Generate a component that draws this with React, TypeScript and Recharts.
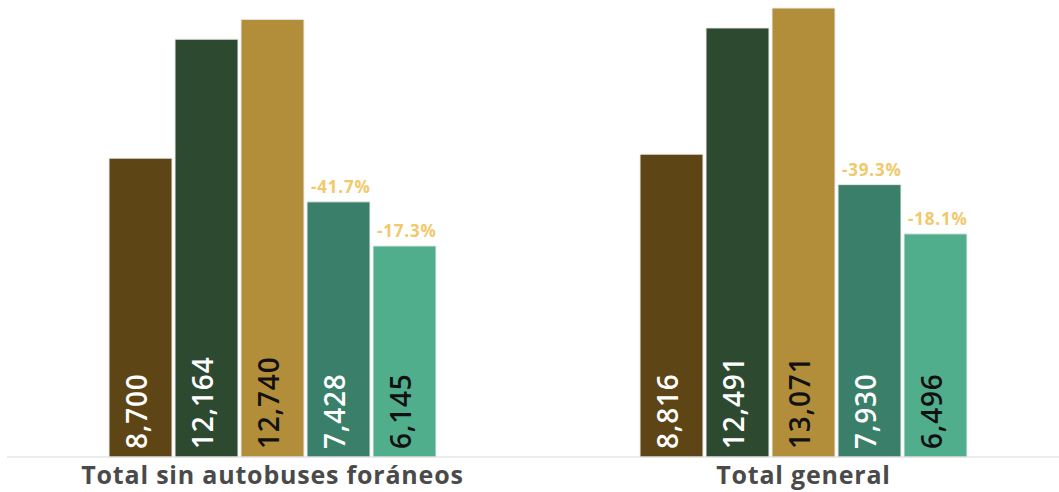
import { Bar, BarChart, LabelList, XAxis, YAxis } from "recharts";

const categories = ["Total sin autobuses foráneos", "Total general"];
const serie1 = [8700, 8816];
const serie2 = [12164, 12491];
const serie3 = [12740, 13071];
const serie4 = [7428, 7930];
const serie5 = [6145, 6496];
const cambio4 = ["-41.7%", "-39.3%"];
const cambio5 = ["-17.3%", "-18.1%"];

const FONT = "'Open Sans', sans-serif";

const series = [
  { key: "s1", fill: "#5d4515", text: "#ffffff" },
  { key: "s2", fill: "#2d4a31", text: "#ffffff" },
  { key: "s3", fill: "#b28d3a", text: "#111111" },
  { key: "s4", fill: "#3a7f6a", text: "#ffffff" },
  { key: "s5", fill: "#51ae8d", text: "#111111" },
];

const chartData = categories.map((name, i) => ({
  name,
  s1: serie1[i],
  s2: serie2[i],
  s3: serie3[i],
  s4: serie4[i],
  s5: serie5[i],
  c4: cambio4[i],
  c5: cambio5[i],
}));

function valueLabel(color: string) {
  return (props: any) => {
    const { x, y, width, height, value } = props;
    const px = Number(x) + Number(width) / 2 + 6;
    const py = Number(y) + Number(height) - 8;
    return (
      <text
        transform={`translate(${px},${py}) rotate(-90)`}
        fill={color}
        fontSize={28}
        fontWeight={600}
        letterSpacing={0.8}
        fontFamily={FONT}
      >
        {Number(value).toLocaleString("en-US")}
      </text>
    );
  };
}

function changeLabel(props: any) {
  const { x, y, value } = props;
  return (
    <text
      x={Number(x) + 4}
      y={Number(y) - 9}
      fill="#f1c96b"
      fontSize={17}
      fontWeight={700}
      letterSpacing={0.8}
      fontFamily={FONT}
    >
      {value}
    </text>
  );
}

function CategoryTick(props: any) {
  const { x, y, payload } = props;
  return (
    <text
      x={x}
      y={y}
      dy={27}
      textAnchor="middle"
      fill="#4a4a4a"
      fontSize={25}
      fontWeight={700}
      letterSpacing={0.8}
      fontFamily={FONT}
    >
      {payload.value}
    </text>
  );
}

export default function App() {
  return (
    <div
      style={{
        position: "absolute",
        left: 0,
        top: 0,
        width: 1059,
        height: 492,
        overflow: "hidden",
        background: "#fff",
      }}
    >
      <BarChart
        width={1069}
        height={492}
        data={chartData}
        margin={{ top: 8, right: 0, left: 7, bottom: 0 }}
        barCategoryGap={102}
        barGap={3}
      >
        <XAxis
          dataKey="name"
          axisLine={{ stroke: "#d9d9d9", strokeWidth: 1 }}
          tickLine={false}
          tickSize={0}
          tickMargin={0}
          height={35}
          tick={<CategoryTick />}
          interval={0}
        />
        <YAxis hide domain={[0, "dataMax"]} />
        {series.map((s) => (
          <Bar
            key={s.key}
            dataKey={s.key}
            fill={s.fill}
            stroke="#ececec"
            strokeWidth={1}
            isAnimationActive={false}
          >
            <LabelList dataKey={s.key} content={valueLabel(s.text)} />
            {s.key === "s4" && <LabelList dataKey="c4" content={changeLabel} />}
            {s.key === "s5" && <LabelList dataKey="c5" content={changeLabel} />}
          </Bar>
        ))}
      </BarChart>
    </div>
  );
}
